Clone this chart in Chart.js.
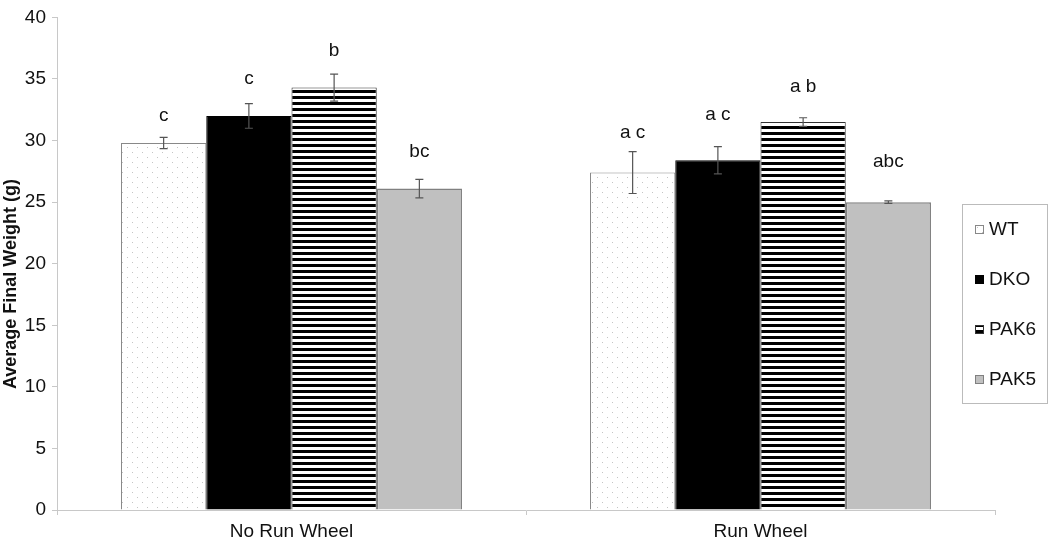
<!DOCTYPE html>
<html lang="en">

<head>
    <meta charset="UTF-8">
    <title>Average Final Weight</title>
    <style>
        body {
            margin: 0;
            padding: 0;
            background-color: #fff;
        }

        #chart-box {
            width: 1050px;
            height: 541px;
        }
    </style>
</head>

<body>
    <div id="chart-box">
        <canvas id="weightChart" width="1050" height="541"></canvas>
    </div>

    <script src="https://cdn.jsdelivr.net/npm/chart.js"></script>
    <script>
        // data
        const groups = ['No Run Wheel', 'Run Wheel'];
        const strains = ['WT', 'DKO', 'PAK6', 'PAK5'];
        const wtValues = [29.8, 27.4];
        const dkoValues = [32.0, 28.4];
        const pak6Values = [34.3, 31.5];
        const pak5Values = [26.1, 25.0];
        const wtErr = [0.45, 1.7];
        const dkoErr = [1.0, 1.1];
        const pak6Err = [1.1, 0.35];
        const pak5Err = [0.75, 0.1];
        // significance letters and the value height they sit at
        const wtLetters = ['c', 'a c'];
        const dkoLetters = ['c', 'a c'];
        const pak6Letters = ['b', 'a b'];
        const pak5Letters = ['bc', 'abc'];
        const wtLetterY = [32.0, 30.6];
        const dkoLetterY = [35.0, 32.1];
        const pak6LetterY = [37.3, 34.4];
        const pak5LetterY = [29.1, 28.3];
        const yTicks = [0, 5, 10, 15, 20, 25, 30, 35, 40];
        const yTitle = 'Average Final Weight (g)';

        const FONT = '"Liberation Sans", Arial, sans-serif';

        function makeDots() {
            const c = document.createElement('canvas');
            c.width = 10; c.height = 10;
            const g = c.getContext('2d');
            g.fillStyle = '#fff';
            g.fillRect(0, 0, 10, 10);
            g.fillStyle = '#c4c4c4';
            g.fillRect(2, 2, 1, 1);
            g.fillRect(7, 7, 1, 1);
            return g.createPattern(c, 'repeat');
        }

        function makeStripes() {
            const c = document.createElement('canvas');
            c.width = 6; c.height = 6;
            const g = c.getContext('2d');
            g.fillStyle = '#fff';
            g.fillRect(0, 0, 6, 6);
            g.fillStyle = '#000';
            g.fillRect(0, 0, 6, 3);
            return g.createPattern(c, 'repeat');
        }

        const dots = makeDots();
        const stripes = makeStripes();

        const errorBars = {
            id: 'errorBars',
            afterDatasetsDraw(chart) {
                const ctx = chart.ctx;
                const y = chart.scales.y;
                ctx.save();
                ctx.strokeStyle = '#555';
                ctx.lineWidth = 1.2;
                chart.data.datasets.forEach((ds, i) => {
                    const meta = chart.getDatasetMeta(i);
                    meta.data.forEach((bar, j) => {
                        const v = ds.data[j];
                        const e = ds.err[j];
                        const top = y.getPixelForValue(v + e);
                        const bot = y.getPixelForValue(v - e);
                        ctx.beginPath();
                        ctx.moveTo(bar.x, top);
                        ctx.lineTo(bar.x, bot);
                        ctx.moveTo(bar.x - 4, top);
                        ctx.lineTo(bar.x + 4, top);
                        ctx.moveTo(bar.x - 4, bot);
                        ctx.lineTo(bar.x + 4, bot);
                        ctx.stroke();
                    });
                });
                // letters
                ctx.fillStyle = '#111';
                ctx.font = '19px ' + FONT;
                ctx.textAlign = 'center';
                ctx.textBaseline = 'middle';
                chart.data.datasets.forEach((ds, i) => {
                    const meta = chart.getDatasetMeta(i);
                    meta.data.forEach((bar, j) => {
                        ctx.fillText(ds.letters[j], bar.x, y.getPixelForValue(ds.letterY[j]));
                    });
                });
                ctx.restore();
            }
        };

        // y title sits a bit below the middle of the axis in the original
        const sideTitle = {
            id: 'sideTitle',
            afterDraw(chart) {
                const ctx = chart.ctx;
                ctx.save();
                ctx.translate(11, 284);
                ctx.rotate(-Math.PI / 2);
                ctx.fillStyle = '#111';
                ctx.font = 'bold 18px ' + FONT;
                ctx.textAlign = 'center';
                ctx.textBaseline = 'middle';
                ctx.fillText(yTitle, 0, 0);
                ctx.restore();
            }
        };

        const boxLegend = {
            id: 'boxLegend',
            afterDraw(chart) {
                const ctx = chart.ctx;
                ctx.save();
                ctx.fillStyle = '#fff';
                ctx.fillRect(962, 204, 85, 199);
                ctx.strokeStyle = '#bbb';
                ctx.lineWidth = 1;
                ctx.strokeRect(962.5, 204.5, 85, 199);
                ctx.font = '19px ' + FONT;
                ctx.textBaseline = 'middle';
                ctx.textAlign = 'left';
                chart.data.datasets.forEach((ds, i) => {
                    const cy = 229 + i * 50;
                    ctx.fillStyle = ds.backgroundColor;
                    ctx.fillRect(975, cy - 4, 9, 9);
                    ctx.strokeStyle = ds.borderColor;
                    ctx.strokeRect(975.5, cy - 3.5, 8, 8);
                    ctx.fillStyle = '#111';
                    ctx.fillText(ds.label, 989, cy + 1);
                });
                ctx.restore();
            }
        };

        const ctx = document.getElementById('weightChart').getContext('2d');
        const weightChart = new Chart(ctx, {
            type: 'bar',
            data: {
                labels: groups,
                datasets: [
                    { label: strains[0], data: wtValues, err: wtErr, letters: wtLetters, letterY: wtLetterY, backgroundColor: dots, borderColor: '#888', borderWidth: 1 },
                    { label: strains[1], data: dkoValues, err: dkoErr, letters: dkoLetters, letterY: dkoLetterY, backgroundColor: '#000', borderColor: '#000', borderWidth: 1 },
                    { label: strains[2], data: pak6Values, err: pak6Err, letters: pak6Letters, letterY: pak6LetterY, backgroundColor: stripes, borderColor: '#333', borderWidth: 1 },
                    { label: strains[3], data: pak5Values, err: pak5Err, letters: pak5Letters, letterY: pak5LetterY, backgroundColor: '#c0c0c0', borderColor: '#808080', borderWidth: 1.5 }
                ]
            },
            options: {
                responsive: false,
                animation: false,
                layout: { padding: { top: 10, right: 55, left: 0, bottom: 0 } },
                datasets: {
                    bar: { barPercentage: 1, categoryPercentage: 0.727 }
                },
                plugins: {
                    legend: { display: false },
                    tooltip: { enabled: false }
                },
                scales: {
                    x: {
                        afterFit: s => { s.height = 31; },
                        grid: { drawOnChartArea: false, offset: true, tickLength: 5, color: '#c8c8c8' },
                        border: { color: '#c8c8c8' },
                        ticks: { color: '#111', padding: 5, font: { family: FONT, size: 19 } }
                    },
                    y: {
                        min: 0,
                        max: 40,
                        afterFit: s => { s.width = 57; },
                        afterBuildTicks: s => { s.ticks = yTicks.map(v => ({ value: v })); },
                        grid: { drawOnChartArea: false, tickLength: 5, color: '#c8c8c8' },
                        border: { color: '#c8c8c8' },
                        ticks: { color: '#111', padding: 6, font: { family: FONT, size: 19 } }
                    }
                }
            },
            plugins: [errorBars, sideTitle, boxLegend]
        });
    </script>
</body>

</html>
